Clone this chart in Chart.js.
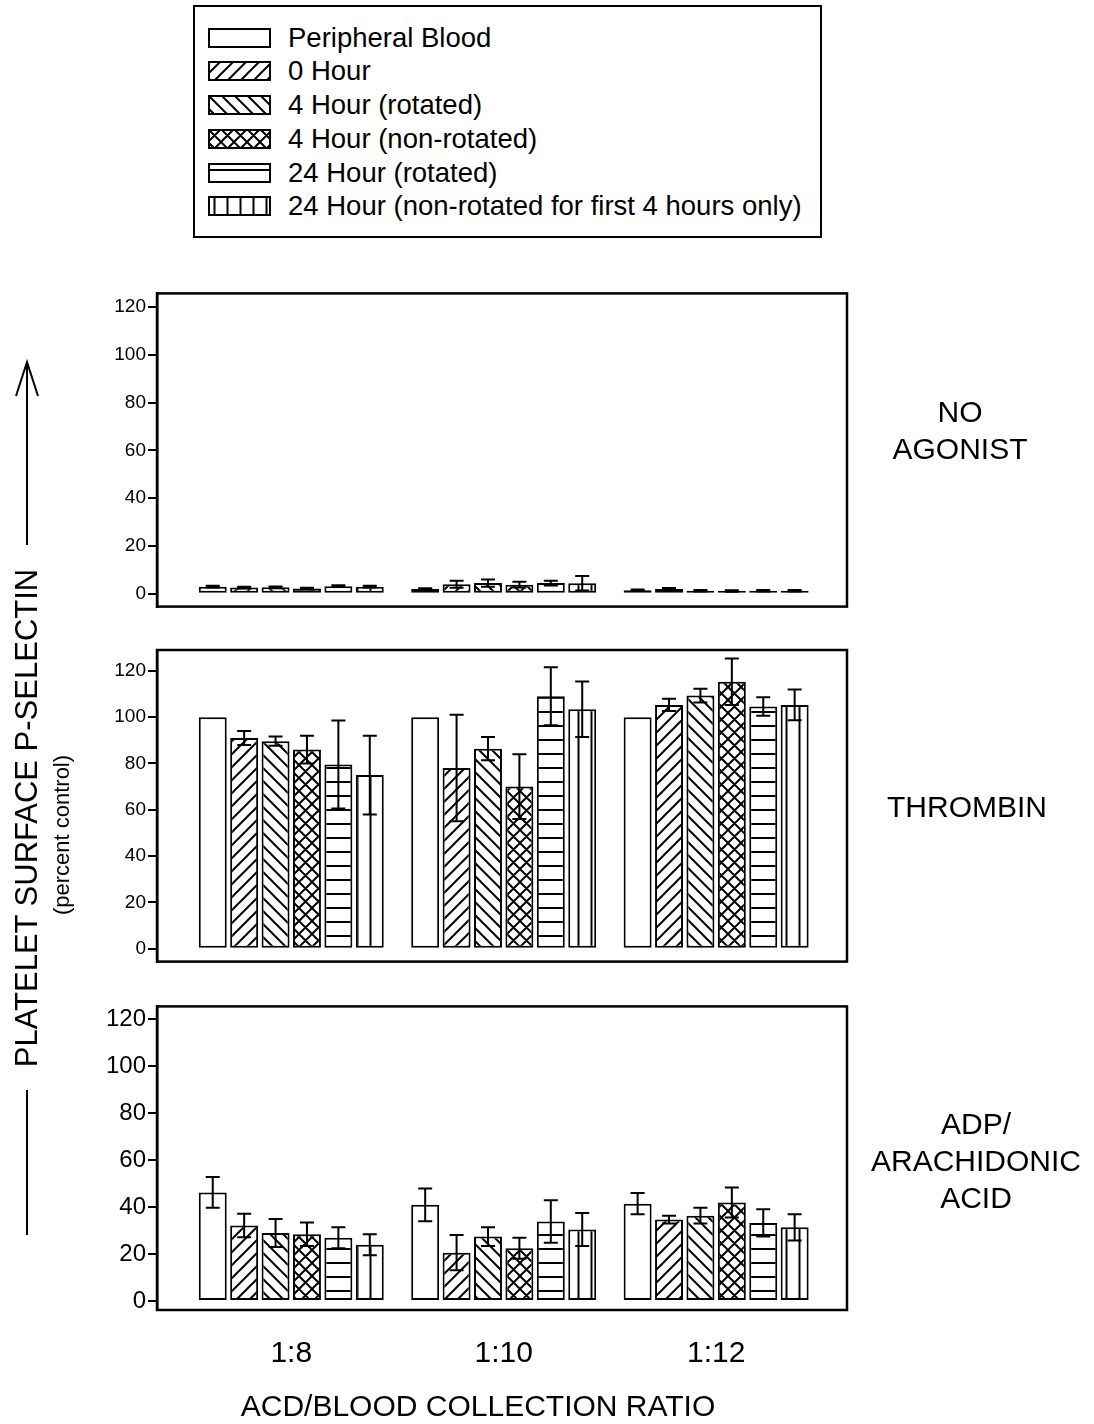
<!DOCTYPE html>
<html>
<head>
<meta charset="utf-8">
<script src="https://cdn.jsdelivr.net/npm/chart.js@4.4.0/dist/chart.umd.min.js"></script>
<style>
  body { margin: 0; background: #fff; width: 1094px; height: 1424px; position: relative; overflow: hidden;
         font-family: 'Liberation Sans', Arial, sans-serif; color: #000; }
  .abs { position: absolute; }
  #legend { left: 193px; top: 5px; width: 629px; height: 233px; border: 2px solid #000; box-sizing: border-box; }
  .row { position: absolute; left: 13px; height: 30px; line-height: 30px; font-size: 27.5px; white-space: nowrap; }
  .row canvas { position: absolute; left: 0; top: 5px; }
  .row span { position: absolute; left: 80px; top: 0; }
  .side { font-size: 30px; text-align: center; line-height: 37px; white-space: nowrap; }
</style>
</head>
<body>
<div id="legend" class="abs"></div>

<div class="abs" style="left:0;top:280px;width:1094px;height:340px"><canvas id="c1" width="1094" height="340"></canvas></div>
<div class="abs" style="left:0;top:635px;width:1094px;height:340px"><canvas id="c2" width="1094" height="340"></canvas></div>
<div class="abs" style="left:0;top:990px;width:1094px;height:400px"><canvas id="c3" width="1094" height="400"></canvas></div>

<!-- y axis title with arrow -->
<svg class="abs" style="left:0;top:0" width="100" height="1424">
  <line x1="27" y1="545" x2="27" y2="362" stroke="#000" stroke-width="2"/>
  <polyline points="16,396 27,362 38,396" fill="none" stroke="#000" stroke-width="2"/>
  <line x1="27" y1="1090" x2="27" y2="1235" stroke="#000" stroke-width="2"/>
</svg>
<div class="abs" style="left:27px;top:818px;transform:translate(-50%,-50%) rotate(-90deg);font-size:31px;white-space:nowrap">PLATELET SURFACE P-SELECTIN</div>
<div class="abs" style="left:62px;top:835px;transform:translate(-50%,-50%) rotate(-90deg);font-size:22px;white-space:nowrap">(percent control)</div>

<div class="abs side" style="left:885px;top:393px;width:150px">NO<br>AGONIST</div>
<div class="abs side" style="left:867px;top:788px;width:200px">THROMBIN</div>
<div class="abs side" style="left:866px;top:1105px;width:220px">ADP/<br>ARACHIDONIC<br>ACID</div>

<div class="abs" style="left:178px;top:1388px;width:600px;text-align:center;font-size:30px;line-height:36px;white-space:nowrap">ACD/BLOOD COLLECTION RATIO</div>

<script>
'use strict';

// Categories and series
const ratios = ['1:8', '1:10', '1:12'];
const seriesNames = ['Peripheral Blood', '0 Hour', '4 Hour (rotated)', '4 Hour (non-rotated)',
  '24 Hour (rotated)', '24 Hour (non-rotated for first 4 hours only)'];
const seriesFills = ['plain', 'fwd', 'back', 'cross', 'horiz', 'vert'];
const yTicks = [0, 20, 40, 60, 80, 100, 120];

// NO AGONIST: one list per series, values for 1:8, 1:10, 1:12
const noAgonist = [[3, 2, 1.5], [2.6, 4, 2], [2.7, 4.5, 1.3], [2.2, 3.8, 1.2], [3.2, 4.5, 1.3], [3, 4.4, 1.3]];
const noAgonistErr = [[0.4, 0.3, 0.3], [0.4, 1.5, 0.4], [0.4, 1.5, 0.3], [0.3, 1.2, 0.3], [0.4, 1, 0.3], [0.4, 3, 0.3]];

// THROMBIN
const thrombin = [[100, 100, 100], [91, 78, 105.3], [89.6, 86.4, 109.3], [86, 70, 115.3], [79.6, 109, 104.6], [75, 103.4, 105.3]];
const thrombinErr = [[0, 0, 0], [3, 23, 2.6], [2, 5, 3], [6, 14, 10], [19, 12.5, 4], [17, 12, 6.6]];

// ADP / ARACHIDONIC ACID
const adp = [[46.3, 41, 41.5], [32.2, 20.6, 34.7], [29, 27.5, 36.4], [28.5, 22.5, 42], [27, 33.9, 33.3], [24, 30.5, 31.4]];
const adpErr = [[6.5, 7, 4.5], [5, 7.5, 1.7], [6, 4, 3.4], [5, 4.5, 6.4], [4.5, 9, 5.8], [4.5, 7, 5.6]];

// Build a black and white hatch pattern
function makePattern(kind) {
  const size = kind === 'horiz' ? 14 : 13;
  const c = document.createElement('canvas');
  c.width = size;
  c.height = size;
  const g = c.getContext('2d');
  g.fillStyle = '#fff';
  g.fillRect(0, 0, size, size);
  g.strokeStyle = '#000';
  g.lineWidth = 2;
  g.beginPath();
  if (kind === 'fwd' || kind === 'cross') {
    g.moveTo(-1, size + 1); g.lineTo(size + 1, -1);
    g.moveTo(-2, 2); g.lineTo(2, -2);
    g.moveTo(size - 2, size + 2); g.lineTo(size + 2, size - 2);
  }
  if (kind === 'back' || kind === 'cross') {
    g.moveTo(-1, -1); g.lineTo(size + 1, size + 1);
    g.moveTo(size - 2, -2); g.lineTo(size + 2, 2);
    g.moveTo(-2, size - 2); g.lineTo(2, size + 2);
  }
  if (kind === 'horiz') {
    g.moveTo(0, size / 2); g.lineTo(size, size / 2);
  }
  if (kind === 'vert') {
    g.moveTo(size / 2, 0); g.lineTo(size / 2, size);
  }
  g.stroke();
  return g.createPattern(c, 'repeat');
}

const fills = seriesFills.map(makePattern);

// Legend rows (HTML)
function buildLegend() {
  const legend = document.getElementById('legend');
  const rowCenters = [31, 64, 98, 132, 166, 199];
  seriesNames.forEach(function(name, i) {
    const row = document.createElement('div');
    row.className = 'row';
    row.style.top = (rowCenters[i] - 15) + 'px';
    const sw = document.createElement('canvas');
    sw.width = 63;
    sw.height = 20;
    const g = sw.getContext('2d');
    g.fillStyle = fills[i];
    g.fillRect(0, 0, 63, 20);
    g.strokeStyle = '#000';
    g.lineWidth = 2;
    g.strokeRect(1, 1, 61, 18);
    const label = document.createElement('span');
    label.textContent = name;
    row.appendChild(sw);
    row.appendChild(label);
    legend.appendChild(row);
  });
}

// Error bars drawn from the chart's own scales
const errorBars = {
  id: 'errorBars',
  afterDatasetsDraw(chart) {
    const ctx = chart.ctx;
    const yScale = chart.scales.y;
    ctx.save();
    ctx.strokeStyle = '#000';
    ctx.lineWidth = 2;
    chart.data.datasets.forEach(function(ds, di) {
      const meta = chart.getDatasetMeta(di);
      meta.data.forEach(function(bar, i) {
        const err = ds.errors[i];
        if (!err) return;
        const v = ds.data[i].y;
        const top = yScale.getPixelForValue(v + err);
        const bot = yScale.getPixelForValue(v - err);
        ctx.beginPath();
        ctx.moveTo(bar.x, top); ctx.lineTo(bar.x, bot);
        ctx.moveTo(bar.x - 7, top); ctx.lineTo(bar.x + 7, top);
        ctx.moveTo(bar.x - 7, bot); ctx.lineTo(bar.x + 7, bot);
        ctx.stroke();
      });
    });
    ctx.restore();
  }
};

// Box round the plot area
const frame = {
  id: 'frame',
  afterDraw(chart) {
    const a = chart.chartArea;
    const ctx = chart.ctx;
    ctx.save();
    ctx.strokeStyle = '#000';
    ctx.lineWidth = 2.5;
    ctx.strokeRect(a.left, a.top, a.right - a.left, a.bottom - a.top);
    ctx.restore();
  }
};

function makePanel(id, values, errors, yMin, yMax, pad, showX, tickSize) {
  const datasets = values.map(function(vals, s) {
    return {
      label: seriesNames[s],
      data: vals.map(function(v, i) { return { x: i + 1, y: v }; }),
      errors: errors[s],
      backgroundColor: fills[s],
      borderColor: '#000',
      borderWidth: 2,
      borderSkipped: false,
      categoryPercentage: 0.887,
      barPercentage: 0.89
    };
  });
  return new Chart(document.getElementById(id), {
    type: 'bar',
    data: { datasets: datasets },
    plugins: [errorBars, frame],
    options: {
      responsive: false,
      animation: false,
      devicePixelRatio: 1,
      layout: { padding: pad },
      plugins: { legend: { display: false }, tooltip: { enabled: false } },
      scales: {
        x: {
          type: 'linear',
          offset: false,
          display: showX,
          min: 0.368,
          max: 3.616,
          grid: { display: false },
          border: { display: false },
          afterBuildTicks: function(scale) { scale.ticks = ratios.map(function(r, i) { return { value: i + 1 }; }); },
          afterFit: function(scale) { scale.height = showX ? 80 : 0; },
          ticks: {
            padding: 18,
            color: '#000',
            font: { size: 30, family: "'Liberation Sans', Arial" },
            callback: function(v) { return ratios[v - 1]; }
          }
        },
        y: {
          min: yMin,
          max: yMax,
          afterBuildTicks: function(scale) { scale.ticks = yTicks.map(function(v) { return { value: v }; }); },
          afterFit: function(scale) { scale.width = 60; },
          border: { display: true, color: '#000', width: 2.5 },
          grid: { drawOnChartArea: false, drawTicks: true, tickLength: 9, color: '#000', lineWidth: 2 },
          ticks: { padding: 2, color: '#000', font: { size: tickSize, family: "'Liberation Sans', Arial" } }
        }
      }
    }
  });
}

function setup() {
  buildLegend();
  makePanel('c1', noAgonist, noAgonistErr, -5.36, 125.77, { left: 97, right: 247, top: 12, bottom: 10 }, false, 19);
  makePanel('c2', thrombin, thrombinErr, -5.57, 129, { left: 97, right: 247, top: 15, bottom: 11 }, false, 19);
  makePanel('c3', adp, adpErr, -3.79, 125.5, { left: 97, right: 247, top: 13, bottom: 0 }, true, 24);
}

window.addEventListener('load', setup);
</script>
</body>
</html>
